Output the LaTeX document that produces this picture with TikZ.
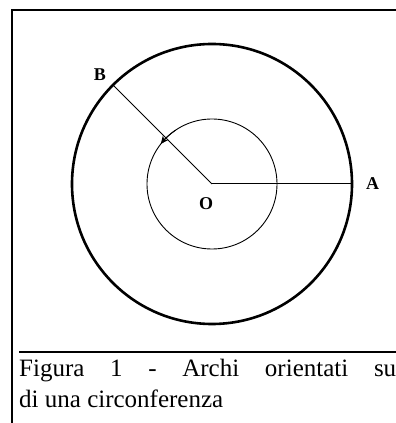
\documentclass[tikz,border=0pt]{standalone}
\usepackage{fontspec}
\setmainfont{Liberation Serif}
\usetikzlibrary{positioning,arrows.meta,calc}
\tikzset{
  frame/.style   = {line width=2pt},
  rim/.style     = {line width=2.6pt},
  ring/.style    = {line width=0.9pt},
  radial/.style  = {line width=1pt},
  ptlabel/.style = {inner sep=0pt, font=\fontsize{18}{18}\selectfont\bfseries},
  caption/.style = {inner sep=0pt, anchor=base west, font=\fontsize{25}{30}\selectfont},
}

\begin{document}
\begin{tikzpicture}[x=1pt,y=1pt]
  \useasboundingbox (0,0) rectangle (396,423);
  % frame and caption rule
  \coordinate (fbot) at (11.5,0);
  \coordinate (fcorner) at (11.5,412.5);
  \coordinate (fright) at (396,412.5);
  \coordinate (rulel) at (19,71);
  \coordinate (ruler) at (396,71);
  \draw[frame] (fbot) -- (fcorner) -- (fright);
  \draw[frame] (rulel) -- (ruler);
  % circles
  \coordinate (O) at (212,239);
  \coordinate (A) at ($(O)+(0:140)$);
  \coordinate (B) at ($(O)+(135:140)$);
  \draw[rim] (O) circle[radius=140];
  \draw[ring] (O) circle[radius=65];
  \draw[radial] (O) -- (A);
  \draw[radial] (O) -- (B);
  \draw[ring, -{Stealth[length=8pt,width=7pt]}] ($(O)+(124:65)$) arc[start angle=124, end angle=142, radius=65];
  \node[ptlabel, right=14pt of A] (labA) {A};
  \node[ptlabel, above left=4pt and 7pt of B] (labB) {B};
  \node[ptlabel, below=13pt of O, xshift=-6pt] (labO) {O};
  % caption
  \node[caption] (cap1) at (19,46) {\makebox[377pt][s]{Figura 1 - Archi orientati su}};
  \node[caption] (cap2) at (19,16) {di una circonferenza};
\end{tikzpicture}
\end{document}
